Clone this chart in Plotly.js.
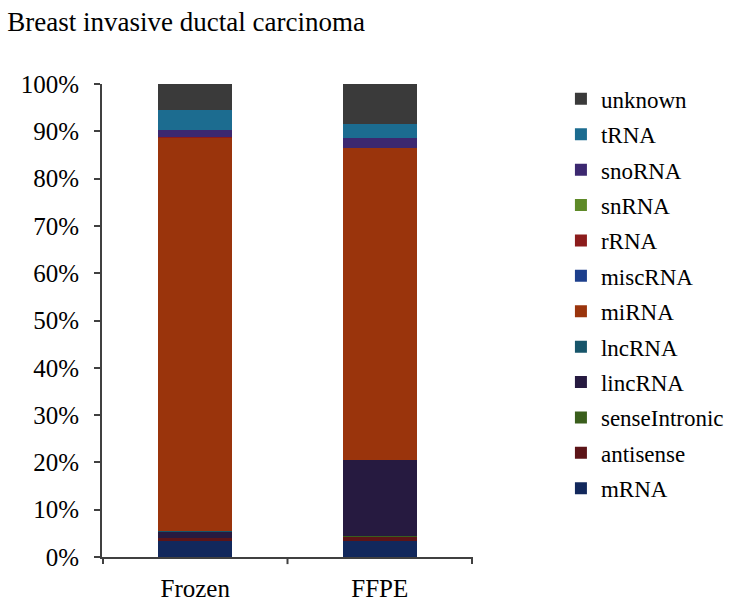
<!DOCTYPE html>
<html>
<head>
<meta charset="utf-8">
<script src="https://cdn.plot.ly/plotly-3.0.1.min.js"></script>
<style>html,body{margin:0;padding:0;background:#fff;}#chart{width:733px;height:604px;}</style>
</head>
<body>
<div id="chart"></div>
<script>
// Data (percent of reads), bottom to top of stack
const samples = ["Frozen", "FFPE"];
const mRNA = [3.4, 3.4];
const antisense = [0.6, 0.9];
const senseIntronic = [0.05, 0.05];
const lincRNA = [1.3, 16.1];
const lncRNA = [0.05, 0.05];
const miRNA = [83.2, 65.9];
const miscRNA = [0.05, 0.05];
const rRNA = [0.05, 0.05];
const snRNA = [0.05, 0.05];
const snoRNA = [1.5, 2.1];
const tRNA = [4.2, 3.0];
const unknown = [5.7, 8.7];

const seriesNames = ["mRNA","antisense","senseIntronic","lincRNA","lncRNA","miRNA","miscRNA","rRNA","snRNA","snoRNA","tRNA","unknown"];
const seriesValues = [mRNA, antisense, senseIntronic, lincRNA, lncRNA, miRNA, miscRNA, rRNA, snRNA, snoRNA, tRNA, unknown];
const seriesColors = ["#12285c","#5c1418","#3a5e1c","#261a40","#17556a","#9a340c","#1d3f8c","#8c1c1c","#5e8a28","#3c2870","#1c6c90","#3a3a3a"];

const traces = seriesNames.map((n, i) => ({
  type: "bar",
  name: n,
  legendgroup: n,
  legendrank: 100 * (seriesNames.length - i),
  x: samples,
  y: seriesValues[i],
  marker: {color: seriesColors[i], line: {width: 0}},
  width: 0.4,
  hoverinfo: "name+y"
}));

const font = "'Liberation Serif', 'Times New Roman', serif";
const layout = {
  width: 733, height: 604,
  margin: {l: 102, r: 260, t: 84, b: 47, autoexpand: false},
  paper_bgcolor: "#fff", plot_bgcolor: "#fff",
  barmode: "stack",
  title: {text: "Breast invasive ductal carcinoma", x: 0.01, xanchor: "left", y: 0.98, yanchor: "top",
          font: {family: font, size: 27, color: "#000"}},
  font: {family: font, color: "#000"},
  xaxis: {
    showline: true, linecolor: "#404040", linewidth: 2,
    ticks: "", tickfont: {family: font, size: 25, color: "#000"},
    ticklabelstandoff: 8,
    showgrid: false, zeroline: false, fixedrange: true
  },
  yaxis: {
    range: [0, 100], tickvals: [0,10,20,30,40,50,60,70,80,90,100],
    ticktext: ["0%","10%","20%","30%","40%","50%","60%","70%","80%","90%","100%"],
    showline: true, linecolor: "#404040", linewidth: 2,
    ticks: "outside", ticklen: 6, tickcolor: "#404040", tickwidth: 2,
    ticklabelstandoff: 10,
    tickfont: {family: font, size: 25, color: "#000"},
    showgrid: false, zeroline: false
  },
  showlegend: true,
  legend: {
    x: 1.237, xanchor: "left", y: 1.014, yanchor: "top",
    traceorder: "grouped", tracegroupgap: 2.5,
    font: {family: font, size: 23, color: "#000"},
    itemwidth: 30, itemsizing: "constant",
    maxheight: 600,
    bgcolor: "rgba(0,0,0,0)"
  },
  shapes: [
    {type: "line", xref: "x", yref: "paper", x0: 0.5, x1: 0.5, y0: 0, y1: -0.015, line: {color: "#404040", width: 2}},
    {type: "line", xref: "x", yref: "paper", x0: 1.5, x1: 1.5, y0: 0, y1: -0.015, line: {color: "#404040", width: 2}},
    {type: "line", xref: "x", yref: "paper", x0: -0.5, x1: -0.5, y0: 0, y1: -0.015, line: {color: "#404040", width: 2}}
  ]
};

Plotly.newPlot("chart", traces, layout, {displayModeBar: false, staticPlot: true});
</script>
</body>
</html>
